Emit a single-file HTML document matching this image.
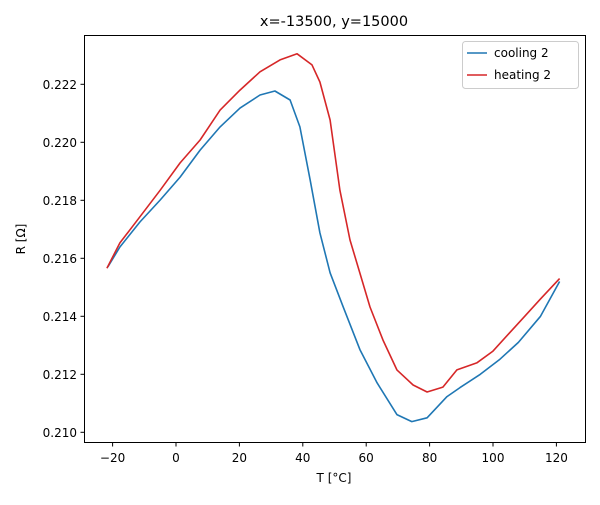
<!DOCTYPE html>
<html><head><meta charset="utf-8"><style>body{margin:0;background:#fff}svg text{font-family:"DejaVu Sans","Liberation Sans",sans-serif}</style></head>
<body>
<svg id="chart" width="600" height="500" xmlns="http://www.w3.org/2000/svg">
<rect width="600" height="500" fill="#fff"/>
<text x="334" y="26" font-size="14.5" text-anchor="middle">x=-13500, y=15000</text>
<g id="axes"></g>
<g id="lines"></g>
<rect x="84.5" y="35.5" width="501" height="407" fill="none" stroke="#000" stroke-width="1"/>
<text x="334" y="482" font-size="12" text-anchor="middle">T [°C]</text>
<text transform="translate(25,239) rotate(-90)" font-size="12" text-anchor="middle">R [Ω]</text>
<g>
<rect x="462.5" y="41.5" width="116" height="47" rx="3" fill="#fff" stroke="#ccc"/>
<line x1="467" y1="53" x2="487" y2="53" stroke="#1f77b4" stroke-width="1.6"/>
<text x="494" y="57" font-size="12">cooling 2</text>
<line x1="467" y1="75" x2="487" y2="75" stroke="#d62728" stroke-width="1.6"/>
<text x="494" y="79" font-size="12">heating 2</text>
</g>
</svg>
<script>
const xTicks=[-20,0,20,40,60,80,100,120];
const yTicks=[0.210,0.212,0.214,0.216,0.218,0.220,0.222];
const coolT=[-21.5,-17.7,-11.4,-5,1.3,7.6,13.9,20.2,26.5,31.2,36,39.1,42.3,45.4,48.6,52.7,58,63.4,69.7,74.4,79.2,85.5,89.6,96,102,108,115,121];
const coolR=[0.2157,0.21639,0.21725,0.21801,0.21880,0.21973,0.22053,0.22118,0.22163,0.22177,0.22146,0.22053,0.21871,0.21688,0.21550,0.21433,0.21285,0.21171,0.21061,0.21037,0.21050,0.21123,0.21154,0.2120,0.2125,0.2131,0.2140,0.2152];
const heatT=[-21.8,-17.7,-11.4,-5,1.3,7.6,13.9,20.2,26.5,32.8,38.2,42.9,45.4,48.6,51.7,54.9,58,61.2,65.3,69.7,74.8,79.2,84.2,88.6,95,100,105,110,115,121];
const heatR=[0.21566,0.21653,0.21743,0.21835,0.21929,0.22008,0.22111,0.22180,0.22243,0.22284,0.22305,0.22267,0.22208,0.22077,0.21835,0.21663,0.21549,0.21432,0.21318,0.21215,0.21163,0.21139,0.21156,0.21215,0.2124,0.2128,0.2134,0.2140,0.2146,0.2153];
const X=t=>176+t*3.17;
const Y=r=>432.3-(r-0.210)*29000;
const NS="http://www.w3.org/2000/svg";
const ax=document.getElementById('axes');
function mk(tag,attrs,parent){const e=document.createElementNS(NS,tag);for(const k in attrs)e.setAttribute(k,attrs[k]);parent.appendChild(e);return e;}
xTicks.forEach(t=>{
const l=mk('line',{x1:X(t),x2:X(t),y1:442.5,y2:446.5,stroke:'#000'},ax);


const tx=mk('text',{x:X(t),y:462,'font-size':12,'text-anchor':'middle'},ax);


tx.textContent=t<0?'\u2212'+(-t):String(t);
});
yTicks.forEach(v=>{
const l=mk('line',{x1:80.5,x2:84.5,y1:Y(v),y2:Y(v),stroke:'#000'},ax);


const tx=mk('text',{x:77,y:Y(v)+4.5,'font-size':12,'text-anchor':'end'},ax);


tx.textContent=v.toFixed(3);
});
const lg=document.getElementById('lines');
function line(T,R,c,name){
const p=mk('path',{d:T.map((t,i)=>(i?'L':'M')+X(t).toFixed(1)+','+Y(R[i]).toFixed(1)).join(''),fill:'none',stroke:c,'stroke-width':1.6,'stroke-linejoin':'round'},lg);


}
line(coolT,coolR,'#1f77b4','cooling-2-line');
line(heatT,heatR,'#d62728','heating-2-line');
</script>
</body></html>
